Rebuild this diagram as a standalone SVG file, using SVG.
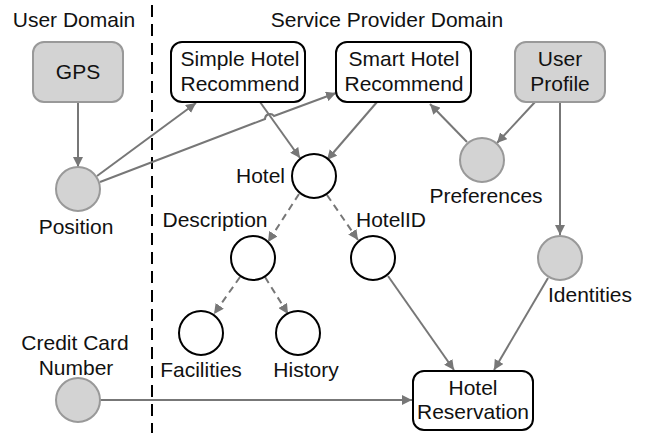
<svg xmlns="http://www.w3.org/2000/svg" width="646" height="433" viewBox="0 0 646 433">
<style>
text{font-family:"Liberation Sans",Arial,sans-serif;font-size:21px;fill:#111}
.gbox{fill:#d3d3d3;stroke:#999;stroke-width:2}
.wbox{fill:#fff;stroke:#000;stroke-width:2}
.gc{fill:#d3d3d3;stroke:#999;stroke-width:2}
.wc{fill:#fff;stroke:#000;stroke-width:2}
.e{fill:none;stroke:#777;stroke-width:2;marker-end:url(#ah)}
.d{stroke-dasharray:7,5}
</style>
<defs>
<marker id="ah" viewBox="0 0 10 10" refX="10" refY="5" markerWidth="10" markerHeight="10" markerUnits="userSpaceOnUse" orient="auto">
<path d="M0,0 L10,5 L0,10 Z" fill="#777"/>
</marker>
</defs>
<rect width="646" height="433" fill="#fff"/>
<line x1="152" y1="5" x2="152" y2="433" stroke="#000" stroke-width="2" stroke-dasharray="12,7"/>
<text x="74" y="27" text-anchor="middle">User Domain</text>
<text x="387" y="27" text-anchor="middle">Service Provider Domain</text>
<g id="connectors">
<path class="e" d="M78,102 V167"/>
<path class="e" d="M97,176 L196,103"/>
<path class="e" d="M100,182 L265,119 A5,5 0 0 1 274,116 L336,93"/>
<path class="e" d="M260,102 L300,158"/>
<path class="e" d="M377,102 L327,160"/>
<path class="e" d="M467,142 L430,104"/>
<path class="e" d="M535,102 L497,143"/>
<path class="e" d="M560,102 V235"/>
<path class="e d" d="M299,194 L268,242"/>
<path class="e d" d="M327,195 L358,240"/>
<path class="e d" d="M240,277 L214,314"/>
<path class="e d" d="M265,277 L288,314"/>
<path class="e" d="M388,276 L454,370"/>
<path class="e" d="M548,278 L494,370"/>
<path class="e" d="M100,400 H412"/>
</g>
<g id="gps"><rect class="gbox" x="33" y="42" width="90" height="60" rx="11"/><text x="78" y="79" text-anchor="middle">GPS</text></g>
<g id="position"><circle class="gc" cx="78" cy="189" r="22"/><text x="76" y="234" text-anchor="middle">Position</text></g>
<g id="simple"><rect class="wbox" x="171" y="42" width="134" height="60" rx="11"/><text x="240" y="66" text-anchor="middle">Simple Hotel</text><text x="240" y="91" text-anchor="middle">Recommend</text></g>
<g id="smart"><rect class="wbox" x="336" y="42" width="135" height="60" rx="11"/><text x="404" y="66" text-anchor="middle">Smart Hotel</text><text x="404" y="91" text-anchor="middle">Recommend</text></g>
<g id="userprofile"><rect class="gbox" x="515" y="42" width="90" height="60" rx="11"/><text x="560" y="66" text-anchor="middle">User</text><text x="560" y="91" text-anchor="middle">Profile</text></g>
<g id="preferences"><circle class="gc" cx="482" cy="160" r="22"/><text x="486" y="203" text-anchor="middle">Preferences</text></g>
<g id="hotel"><circle class="wc" cx="314" cy="176" r="22"/><text x="285" y="183" text-anchor="end">Hotel</text></g>
<g id="description"><circle class="wc" cx="253" cy="258" r="22"/><text x="215" y="227" text-anchor="middle">Description</text></g>
<g id="hotelid"><circle class="wc" cx="373" cy="258" r="22"/><text x="391" y="227" text-anchor="middle">HotelID</text></g>
<g id="identities"><circle class="gc" cx="560" cy="258" r="22"/><text x="590" y="302" text-anchor="middle">Identities</text></g>
<g id="facilities"><circle class="wc" cx="201" cy="333" r="22"/><text x="201" y="377" text-anchor="middle">Facilities</text></g>
<g id="history"><circle class="wc" cx="298" cy="333" r="22"/><text x="306" y="377" text-anchor="middle">History</text></g>
<g id="creditcard"><circle class="gc" cx="78" cy="400" r="22"/><text x="75" y="350" text-anchor="middle">Credit Card</text><text x="76" y="375" text-anchor="middle">Number</text></g>
<g id="reservation"><rect class="wbox" x="413" y="371" width="120" height="59" rx="11"/><text x="473" y="395" text-anchor="middle">Hotel</text><text x="473" y="419" text-anchor="middle">Reservation</text></g>
</svg>
